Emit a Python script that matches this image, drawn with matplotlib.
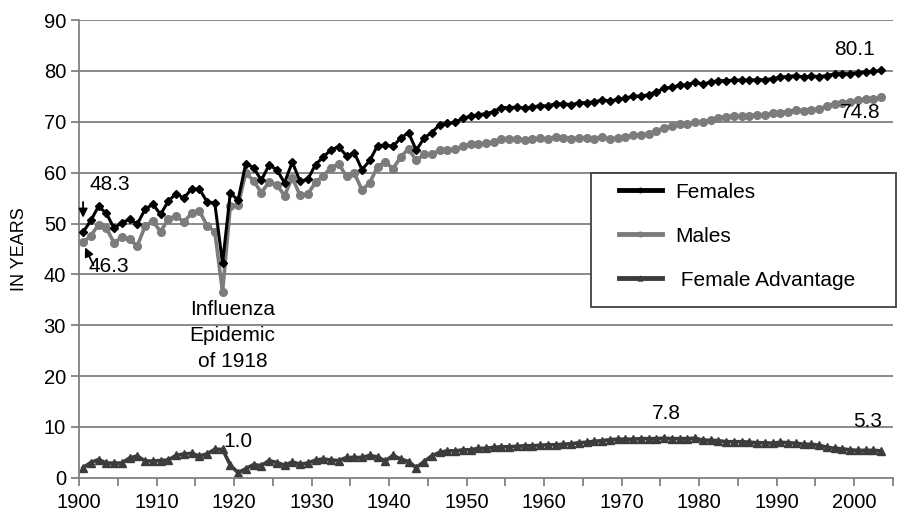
import numpy as np
import matplotlib
matplotlib.use("Agg")
import matplotlib.pyplot as plt
from matplotlib.patches import Rectangle

plt.rcParams['font.family'] = ['Liberation Sans', 'DejaVu Sans']

years = np.arange(1900, 2004)

females = [48.3, 50.6, 53.4, 52.0, 49.1, 50.2, 50.8, 49.9, 52.8, 53.8,
           51.8, 54.4, 55.9, 55.0, 56.8, 56.8, 54.3, 54.0, 42.2, 56.0,
           54.6, 61.8, 61.0, 58.5, 61.5, 60.6, 58.0, 62.1, 58.3, 58.7,
           61.6, 63.1, 64.5, 65.1, 63.3, 63.9, 60.6, 62.4, 65.3, 65.4,
           65.2, 66.8, 67.9, 64.4, 66.8, 67.9, 69.4, 69.7, 69.9, 70.7,
           71.1, 71.4, 71.6, 72.0, 72.8, 72.8, 72.9, 72.7, 72.9, 73.2,
           73.1, 73.6, 73.5, 73.4, 73.7, 73.8, 73.9, 74.3, 74.1, 74.4,
           74.7, 75.0, 75.1, 75.3, 75.9, 76.6, 76.8, 77.2, 77.3, 77.8,
           77.4, 77.8, 78.1, 78.1, 78.2, 78.2, 78.2, 78.3, 78.3, 78.5,
           78.8, 78.9, 79.1, 78.8, 79.0, 78.9, 79.1, 79.4, 79.5, 79.4,
           79.7, 79.8, 79.9, 80.1]

males = [46.3, 47.6, 49.8, 49.1, 46.2, 47.3, 46.9, 45.6, 49.5, 50.5,
         48.4, 50.9, 51.5, 50.3, 52.0, 52.5, 49.6, 48.4, 36.6, 53.5,
         53.6, 60.0, 58.4, 56.1, 58.1, 57.6, 55.5, 59.0, 55.6, 55.8,
         58.1, 59.4, 61.0, 61.7, 59.3, 59.9, 56.6, 58.0, 61.2, 62.1,
         60.8, 63.1, 64.7, 62.4, 63.6, 63.6, 64.4, 64.4, 64.6, 65.2,
         65.6, 65.6, 65.8, 66.0, 66.7, 66.7, 66.7, 66.4, 66.6, 66.8,
         66.6, 67.1, 66.9, 66.7, 66.8, 66.8, 66.7, 67.0, 66.6, 66.8,
         67.1, 67.4, 67.4, 67.6, 68.2, 68.8, 69.1, 69.5, 69.6, 70.0,
         70.0, 70.4, 70.8, 71.0, 71.1, 71.1, 71.2, 71.4, 71.4, 71.7,
         71.8, 72.0, 72.3, 72.2, 72.4, 72.5, 73.1, 73.6, 73.8, 73.9,
         74.3, 74.4, 74.5, 74.8]

advantage = [2.0, 3.0, 3.6, 2.9, 2.9, 2.9, 3.9, 4.3, 3.3, 3.3,
             3.4, 3.5, 4.4, 4.7, 4.8, 4.3, 4.7, 5.6, 5.6, 2.5,
             1.0, 1.8, 2.6, 2.4, 3.4, 3.0, 2.5, 3.1, 2.7, 2.9,
             3.5, 3.7, 3.5, 3.4, 4.0, 4.0, 4.0, 4.4, 4.1, 3.3,
             4.4, 3.7, 3.2, 2.0, 3.2, 4.3, 5.0, 5.3, 5.3, 5.5,
             5.5, 5.8, 5.8, 6.0, 6.1, 6.1, 6.2, 6.3, 6.3, 6.4,
             6.5, 6.5, 6.6, 6.7, 6.9, 7.0, 7.2, 7.3, 7.5, 7.6,
             7.6, 7.6, 7.7, 7.7, 7.7, 7.8, 7.7, 7.7, 7.7, 7.8,
             7.4, 7.4, 7.3, 7.1, 7.1, 7.1, 7.0, 6.9, 6.9, 6.8,
             7.0, 6.9, 6.8, 6.6, 6.6, 6.4, 6.0, 5.8, 5.7, 5.5,
             5.4, 5.4, 5.4, 5.3]

# points sit in the middle of each year's slot (category axis)
xpos = years + 0.5

fig = plt.figure(figsize=(9, 5.16), dpi=100)
ax = fig.add_axes([0.088, 0.074, 0.904, 0.887])

grid_c = '#808080'
for v in range(10, 100, 10):
    ax.axhline(v, color=grid_c, lw=1.3, zorder=0)

ax.plot(xpos, females, color='black', lw=2.2, marker='D', ms=4.2,
        label='Females', zorder=3)
ax.plot(xpos, males, color='#7c7c7c', lw=2.6, marker='o', ms=5.5,
        label='Males', zorder=2)
ax.plot(xpos, advantage, color='#3c3c3c', lw=2.6, marker='^', ms=6,
        label=' Female Advantage', zorder=2)

ax.set_xlim(1900, 2005)
ax.set_ylim(0, 90)
ax.set_xticks(np.arange(1900, 2001, 10))
ax.set_xticks(np.arange(1900, 2006, 5), minor=True)
ax.set_yticks(np.arange(0, 91, 10))
ax.tick_params(axis='both', which='both', labelsize=14.5, color=grid_c,
               width=1.3, direction='out', length=6)
ax.tick_params(axis='x', which='major', pad=5)
for s in ['top', 'right']:
    ax.spines[s].set_visible(False)
for s in ['left', 'bottom']:
    ax.spines[s].set_color(grid_c)
    ax.spines[s].set_linewidth(1.3)

ax.set_ylabel('IN YEARS', fontsize=13)
ax.yaxis.set_label_coords(-0.063, 0.5)

fs = 15
ax.text(1904.0, 57.6, '48.3', fontsize=fs, ha='center', va='center')
ax.text(1903.8, 41.6, '46.3', fontsize=fs, ha='center', va='center')
ax.annotate('', xy=(1900.5, 50.6), xytext=(1900.5, 54.8),
            arrowprops=dict(arrowstyle='-|>', color='black', lw=1.3,
                            mutation_scale=13))
ax.annotate('', xy=(1900.6, 45.8), xytext=(1902.0, 41.3),
            arrowprops=dict(arrowstyle='-|>', color='black', lw=1.3,
                            mutation_scale=13))
ax.text(1919.8, 28, 'Influenza\nEpidemic\nof 1918', fontsize=fs,
        ha='center', va='center', linespacing=1.45)
ax.text(1920.5, 7.1, '1.0', fontsize=fs, ha='center', va='center')
ax.text(1975.8, 12.7, '7.8', fontsize=fs, ha='center', va='center')
ax.text(2001.7, 11.1, '5.3', fontsize=fs, ha='center', va='center')
ax.text(2000.0, 84.2, '80.1', fontsize=fs, ha='center', va='center')
ax.text(2000.8, 71.9, '74.8', fontsize=fs, ha='center', va='center')

# legend box drawn separately so the entries can be inset like the original
ax.add_patch(Rectangle((0.629, 0.373), 0.375, 0.293, transform=ax.transAxes,
                       facecolor='white', edgecolor='#404040', lw=1.3,
                       zorder=4, clip_on=False))
leg = ax.legend(loc='upper left', bbox_to_anchor=(0.663, 0.645),
                fontsize=fs, frameon=False, handlelength=2.1,
                handletextpad=0.6, labelspacing=1.2, borderpad=0.0,
                borderaxespad=0.0, markerscale=0.6)
leg.set_zorder(5)
for ln in leg.get_lines():
    ln.set_linewidth(3.5)

fig.savefig('out.png', dpi=100)
